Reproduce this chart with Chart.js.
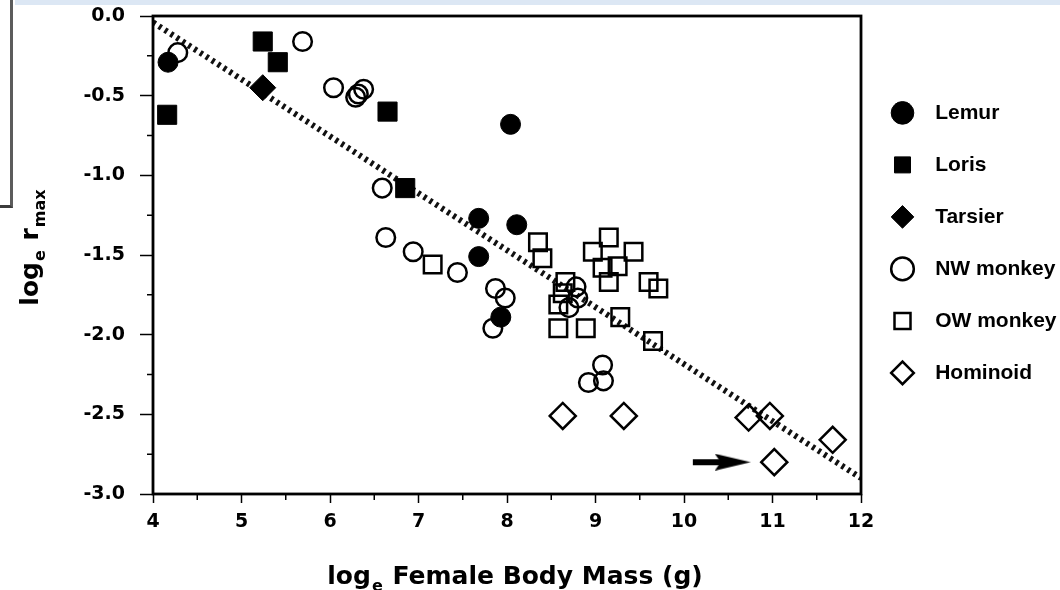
<!DOCTYPE html>
<html>
<head>
<meta charset="utf-8">
<script src="https://cdn.jsdelivr.net/npm/chart.js@4/dist/chart.umd.min.js"></script>
<style>
  body { margin: 0; background: #fff; }
  #wrap { position: relative; width: 1060px; height: 590px; }
  .strip { position: absolute; left: 15px; top: 0; width: 1045px; height: 5px; background: #dce7f4; }
  .box { position: absolute; left: 0; top: 0; width: 10px; height: 205px; border-right: 3px solid #5c5c5c; border-bottom: 3px solid #3c3c3c; }
</style>
</head>
<body>
<div id="wrap">
  <canvas id="chart" width="1060" height="590"></canvas>
  <div class="strip"></div>
  <div class="box"></div>
</div>
<script>
var seriesNames = ["Lemur", "Loris", "Tarsier", "NW monkey", "OW monkey", "Hominoid"];

var lemurX = [4.17, 8.04, 7.68, 8.11, 7.68, 7.93];
var lemurY = [-0.29, -0.68, -1.27, -1.31, -1.51, -1.89];

var lorisX = [4.16, 5.24, 5.41, 6.65, 6.85];
var lorisY = [-0.62, -0.16, -0.29, -0.60, -1.08];

var tarsierX = [5.24];
var tarsierY = [-0.45];

var nwX = [4.28, 5.69, 6.04, 6.29, 6.32, 6.38, 6.59, 6.63, 6.94, 7.44, 7.87, 7.98, 7.84, 8.78, 8.80, 8.70, 9.08, 8.92, 9.09];
var nwY = [-0.23, -0.16, -0.45, -0.51, -0.49, -0.46, -1.08, -1.39, -1.48, -1.61, -1.71, -1.77, -1.96, -1.70, -1.77, -1.83, -2.19, -2.30, -2.29];

var owX = [7.16, 8.35, 8.40, 9.15, 8.97, 9.43, 9.08, 9.25, 9.15, 9.60, 9.71, 8.66, 8.63, 8.58, 8.58, 8.89, 9.28, 9.65];
var owY = [-1.56, -1.42, -1.52, -1.39, -1.48, -1.48, -1.58, -1.57, -1.67, -1.67, -1.71, -1.67, -1.74, -1.81, -1.96, -1.96, -1.89, -2.04];

var homX = [8.63, 9.32, 10.73, 10.97, 11.68, 11.02];
var homY = [-2.51, -2.51, -2.52, -2.51, -2.66, -2.80];

// regression line and the arrow pointing at one hominoid
var fitX = [4, 12];
var fitY = [-0.04, -2.90];
var arrowX = [10.10, 10.55];
var arrowY = [-2.80, -2.80];

var xTickValues = [4, 5, 6, 7, 8, 9, 10, 11, 12];
var xTickLabels = ["4", "5", "6", "7", "8", "9", "10", "11", "12"];
var yTickValues = [0, -0.5, -1, -1.5, -2, -2.5, -3];
var yTickLabels = ["0.0", "-0.5", "-1.0", "-1.5", "-2.0", "-2.5", "-3.0"];

function pts(xs, ys) {
    return xs.map(function (x, i) { return { x: x, y: ys[i] }; });
}

var head = document.createElement("canvas");
head.width = 36;
head.height = 17;
var hc = head.getContext("2d");
hc.fillStyle = "#000";
hc.beginPath();
hc.moveTo(0, 0);
hc.lineTo(36, 8.5);
hc.lineTo(0, 17);
hc.lineTo(6, 8.5);
hc.closePath();
hc.fill();

var tickFont = { family: "DejaVu Sans", weight: "bold", size: 19 };

function drawParts(ctx, parts, x, y) {
    var big = "bold 25px 'DejaVu Sans'";
    var small = "bold 16px 'DejaVu Sans'";
    var total = 0;
    parts.forEach(function (p) {
        ctx.font = p[1] ? small : big;
        total += ctx.measureText(p[0]).width + (p[1] ? 2 : 0);
    });
    var cx = x - total / 2;
    parts.forEach(function (p) {
        ctx.font = p[1] ? small : big;
        ctx.fillText(p[0], cx + (p[1] ? 1 : 0), y + (p[1] ? 7 : 0));
        cx += ctx.measureText(p[0]).width + (p[1] ? 2 : 0);
    });
}

var decor = {
    id: "decor",
    afterDraw: function (chart) {
        var ctx = chart.ctx;
        var a = chart.chartArea;
        var xs = chart.scales.x, ys = chart.scales.y;
        ctx.save();
        ctx.strokeStyle = "#000";
        ctx.lineWidth = 2.8;
        ctx.strokeRect(a.left, a.top, a.right - a.left, a.bottom - a.top);
        // minor ticks
        ctx.lineWidth = 1.5;
        ctx.beginPath();
        for (var v = 4.5; v < 12; v += 1) {
            var px = xs.getPixelForValue(v);
            ctx.moveTo(px, a.bottom);
            ctx.lineTo(px, a.bottom + 6);
        }
        for (var w = -0.25; w > -3; w -= 0.5) {
            var py = ys.getPixelForValue(w);
            ctx.moveTo(a.left, py);
            ctx.lineTo(a.left - 6, py);
        }
        ctx.stroke();
        // axis titles with subscripts
        ctx.fillStyle = "#000";
        ctx.textBaseline = "alphabetic";
        ctx.textAlign = "left";
        drawParts(ctx, [["log", 0], ["e", 1], [" Female Body Mass (g)", 0]], 515, 584);
        ctx.translate(38, 247);
        ctx.rotate(-Math.PI / 2);
        drawParts(ctx, [["log", 0], ["e", 1], [" r", 0], ["max", 1]], 0, 0);
        ctx.restore();
    }
};

var ctx = document.getElementById("chart").getContext("2d");

new Chart(ctx, {
    type: "scatter",
    data: {
        datasets: [{
            label: seriesNames[0],
            data: pts(lemurX, lemurY),
            pointStyle: "circle",
            pointRadius: 10,
            backgroundColor: "#000",
            borderColor: "#000",
            borderWidth: 1
        }, {
            label: seriesNames[1],
            data: pts(lorisX, lorisY),
            pointStyle: "rect",
            pointRadius: 13.5,
            backgroundColor: "#000",
            borderColor: "#000",
            borderWidth: 1
        }, {
            label: seriesNames[2],
            data: pts(tarsierX, tarsierY),
            pointStyle: "rectRot",
            pointRadius: 13,
            backgroundColor: "#000",
            borderColor: "#000",
            borderWidth: 1
        }, {
            label: seriesNames[3],
            data: pts(nwX, nwY),
            pointStyle: "circle",
            pointRadius: 9.3,
            backgroundColor: "transparent",
            borderColor: "#000",
            borderWidth: 2.5
        }, {
            label: seriesNames[4],
            data: pts(owX, owY),
            pointStyle: "rect",
            pointRadius: 12.4,
            backgroundColor: "transparent",
            borderColor: "#000",
            borderWidth: 2.5
        }, {
            label: seriesNames[5],
            data: pts(homX, homY),
            pointStyle: "rectRot",
            pointRadius: 13,
            backgroundColor: "transparent",
            borderColor: "#000",
            borderWidth: 2.5
        }, {
            type: "line",
            label: "fit",
            data: pts(fitX, fitY),
            borderColor: "#111",
            borderWidth: 6,
            borderDash: [3, 4],
            pointRadius: 0,
            order: 1
        }, {
            type: "line",
            label: "arrow",
            data: pts(arrowX, arrowY),
            borderColor: "#000",
            borderWidth: 6,
            pointStyle: [false, head],
            pointRadius: [0, 1],
            order: 1
        }]
    },
    options: {
        responsive: false,
        animation: false,
        events: [],
        layout: {
            padding: { top: 16, left: 0, right: 0, bottom: 0 }
        },
        plugins: {
            tooltip: { enabled: false },
            legend: {
                position: "right",
                align: "start",
                fullSize: false,
                maxWidth: 199,
                title: {
                    display: true,
                    text: "",
                    padding: { top: 41, bottom: 0 },
                    font: { size: 12 }
                },
                labels: {
                    usePointStyle: true,
                    boxWidth: 21,
                    boxHeight: 16,
                    padding: 31,
                    color: "#000",
                    font: { family: "Liberation Sans", weight: "bold", size: 21 },
                    filter: function (item) { return item.datasetIndex < 6; },
                    generateLabels: function (chart) {
                        var items = Chart.defaults.plugins.legend.labels.generateLabels(chart);
                        items.forEach(function (it) { it.text = "  " + it.text; });
                        return items;
                    }
                }
            }
        },
        scales: {
            x: {
                type: "linear",
                position: "bottom",
                min: 4,
                max: 12,
                afterFit: function (s) { s.height = 96; },
                border: { display: false },
                grid: {
                    drawOnChartArea: false,
                    drawTicks: true,
                    tickLength: 9,
                    tickWidth: 1.5,
                    tickColor: "#000"
                },
                ticks: {
                    stepSize: 1,
                    padding: 8,
                    color: "#000",
                    font: tickFont,
                    callback: function (v) {
                        var i = xTickValues.indexOf(v);
                        return i >= 0 ? xTickLabels[i] : "";
                    }
                }
            },
            y: {
                type: "linear",
                min: -3,
                max: 0,
                afterFit: function (s) {
                    s.width = 153;
                    s.paddingTop = 0;
                    s.paddingBottom = 0;
                },
                border: { display: false },
                grid: {
                    drawOnChartArea: false,
                    drawTicks: true,
                    tickLength: 13,
                    tickWidth: 1.5,
                    tickColor: "#000"
                },
                ticks: {
                    stepSize: 0.5,
                    padding: 15,
                    color: "#000",
                    font: tickFont,
                    callback: function (v) {
                        var i = yTickValues.indexOf(v);
                        return i >= 0 ? yTickLabels[i] : "";
                    }
                }
            }
        }
    },
    plugins: [decor]
});
</script>
</body>
</html>
